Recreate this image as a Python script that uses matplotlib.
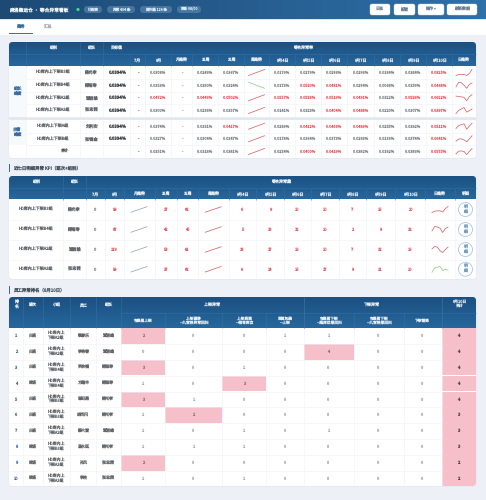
import numpy as np
import matplotlib
matplotlib.use("Agg")
import matplotlib.pyplot as plt
from matplotlib.patches import FancyBboxPatch, Rectangle, Circle
from matplotlib.colors import LinearSegmentedColormap

plt.rcParams['font.family'] = ['Noto Sans CJK SC', 'DejaVu Sans']
plt.rcParams['text.hinting'] = 'no_hinting'

W, H = 486, 500
TARGET = 0.0394

# ---------- data ----------
title = "麻涌集运仓 · 等合异常看板"
chips = ["已连接", "异常 404 条", "操作量 124 条", "更新 08/00"]
buttons = ["日志", "配置", "操作 ▾", "刷新数据"]
tabs = ["商务", "汇总"]
days = ["8月4日", "8月5日", "8月6日", "8月7日", "8月8日", "8月9日", "8月10日"]

groups = ["HD库内上下架B3组", "HD库内上下架B4组", "HD库内上下架A2组", "HD库内上下架A3组",
          "HD库内上下架A组", "HD库内上下架B组"]
leaders = ["陈光孝", "陈雨寿", "覃居雄", "张忠茜", "刘利安", "张锦金"]
month8 = [0.0308, 0.0353, 0.0472, 0.0300, 0.0374, 0.0327]
week31 = [0.0243, 0.0390, 0.0443, 0.0236, 0.0331, 0.0304]
week32 = [0.0367, 0.0324, 0.0502, 0.0357, 0.0417, 0.0347]
daily_rate = [
    [0.0179, 0.0279, 0.0296, 0.0296, 0.0184, 0.0384, 0.0825],
    [0.0173, 0.0520, 0.0481, 0.0294, 0.0068, 0.0359, 0.0468],
    [0.0557, 0.0528, 0.0519, 0.0491, 0.0322, 0.0526, 0.0622],
    [0.0141, 0.0323, 0.0404, 0.0488, 0.0220, 0.0307, 0.0397],
    [0.0289, 0.0412, 0.0456, 0.0489, 0.0255, 0.0392, 0.0511],
    [0.0178, 0.0364, 0.0373, 0.0293, 0.0133, 0.0374, 0.0641],
]
total_month8 = 0.0351
total_w31 = 0.0318
total_w32 = 0.0381
total_daily = [0.0234, 0.0400, 0.0419, 0.0382, 0.0192, 0.0383, 0.0575]

kpi_groups = groups[:4]
kpi_leaders = leaders[:4]
kpi_m7 = [0, 0, 0, 0]
kpi_m8 = [99, 87, 119, 99]
kpi_w31 = [37, 42, 58, 37]
kpi_w32 = [62, 45, 61, 62]
kpi_daily = [
    [6, 9, 10, 10, 7, 15, 20],
    [5, 13, 12, 10, 2, 9, 12],
    [13, 17, 16, 10, 7, 12, 16],
    [6, 14, 15, 17, 9, 11, 10],
]

rank_shift = ["白班", "白班", "白班", "晚班", "白班", "白班", "白班", "晚班", "晚班", "晚班"]
rank_group = ["A2", "A2", "B4", "B4", "B3", "B3", "A2", "B3", "A3", "A3"]
rank_name = ["黎春乐", "李艳春", "罗余福", "方瑞丰", "邬纪燕", "胡西闪", "蔡大富", "温水廷", "孙风", "李柱"]
rank_leader = ["覃居雄", "覃居雄", "陈雨寿", "陈雨寿", "陈光孝", "陈光孝", "覃居雄", "陈光孝", "张忠茜", "张忠茜"]
rank_heads = ["包裹届上架", "上架漂移\n—九宫格异常回扫", "上架货损\n—相邻库位", "货框包裹\n—上架",
              "包裹届下架\n—超库位报回扫", "包裹届下架\n—九宫格报回扫", "下架错拣"]
rank_vals = [
    [2, 0, 0, 1, 1, 0, 0],
    [0, 0, 0, 0, 4, 0, 0],
    [3, 0, 1, 0, 0, 0, 0],
    [1, 0, 3, 0, 0, 0, 0],
    [3, 1, 0, 0, 0, 0, 0],
    [1, 2, 0, 0, 0, 0, 0],
    [1, 0, 1, 0, 1, 0, 0],
    [1, 1, 1, 0, 0, 0, 0],
    [2, 0, 0, 0, 0, 0, 0],
    [1, 0, 1, 0, 0, 0, 0],
]
rank_total = [4, 4, 4, 4, 4, 3, 3, 3, 2, 2]

# ---------- layout (pixels) ----------
X1 = [26, 80, 103, 130, 145, 171, 192, 218, 244, 269, 295, 321, 347, 374, 400, 426, 452, 476]
Y1 = [66, 79, 91.5, 104, 117, 120, 132.5, 145, 158]
X2 = [9, 63, 86, 105, 123.5, 154.5, 176.5, 198, 228.5, 256, 284, 311, 339, 366, 395, 425, 455, 476]
Y2 = [199.5, 219.5, 239.5, 259.5, 279]
X3 = [9, 22.5, 42.5, 70, 96, 120.5, 165, 222, 266, 303.5, 353.5, 403.5, 441.5, 476]
Y3 = [328, 344, 360, 375.5, 391.5, 407, 423, 439, 455, 471, 486]

C_BG = "#edf0f6"
C_TXT = "#63686f"
C_NUM = "#777c84"
C_RED = "#e2555e"
C_GRID = "#eff2f7"
C_PINK = "#f5c0ca"
C_BLUE = "#3a6c9e"
C_GRN = "#8ccf8f"
C_SLINE = "#e0626a"
C_GREY = "#9aa6bd"
C_HEAD = "#e4edf5"
FS = 2.9

fig = plt.figure(figsize=(W / 100, H / 100), dpi=100, facecolor=C_BG)
ax = fig.add_axes([0, 0, 1, 1])
ax.set_xlim(0, W)
ax.set_ylim(H, 0)
ax.axis("off")

head_cm = LinearSegmentedColormap.from_list("h", ["#1b5082", "#27679c"])
bar_cm = LinearSegmentedColormap.from_list("b", ["#1d4a75", "#2f70a8"])


def T(x, y, s, size=FS, color=C_TXT, weight="normal", ha="center", z=6):
    ax.text(x, y, s, fontsize=size, color=color, fontweight=weight, ha=ha, va="center",
            linespacing=1.15, zorder=z)


def gradient(x0, x1, y0, y1, cmap, horizontal=False, clip=None, z=2):
    g = np.linspace(0, 1, 64)
    g = g.reshape(1, -1) if horizontal else g.reshape(-1, 1)
    im = ax.imshow(g, cmap=cmap, extent=[x0, x1, y1, y0], aspect="auto", zorder=z, interpolation="bilinear")
    if clip is not None:
        im.set_clip_path(clip)
    ax.set_xlim(0, W)
    ax.set_ylim(H, 0)


def card(x0, x1, y0, y1):
    ax.add_patch(FancyBboxPatch((x0 - 0.3, y0 + 0.7), x1 - x0 + 0.6, y1 - y0,
                                boxstyle="round,pad=0,rounding_size=3.5", fc="#e2e7ef", ec="none", zorder=0.5))
    p = FancyBboxPatch((x0, y0), x1 - x0, y1 - y0, boxstyle="round,pad=0,rounding_size=3.5",
                       fc="white", ec="none", zorder=1)
    ax.add_patch(p)
    return p


def hline(x0, x1, y, color=C_GRID, lw=0.4, z=3):
    ax.plot([x0, x1], [y, y], color=color, lw=lw, zorder=z, solid_capstyle="butt")


def vline(x, y0, y1, color=C_GRID, lw=0.4, z=3):
    ax.plot([x, x], [y0, y1], color=color, lw=lw, zorder=z, solid_capstyle="butt")


def spark(cx, cy, values, color, w=16, h=6, lw=0.55):
    a = fig.add_axes([(cx - w / 2) / W, 1 - (cy + h / 2) / H, w / W, h / H])
    a.axis("off")
    a.patch.set_alpha(0)
    a.plot(range(len(values)), values, color=color, lw=lw, clip_on=False)
    a.margins(0)


def mid(edges, i):
    return (edges[i] + edges[i + 1]) / 2


def pct(v):
    return f"{v:.4f}%"


def pc(v):
    return C_RED if v > TARGET else C_NUM


# ---------- top bar ----------
ax.add_patch(Rectangle((0, 19), W, 1.5, fc="#dfe4ec", ec="none", zorder=0.6))
ax.add_patch(Rectangle((0, 19.5), W, 15, fc="white", ec="none", zorder=0.7))
gradient(0, W, 0, 19, bar_cm, horizontal=True, z=1)
T(9, 9.5, title, size=3.45, color="#f2f6fa", weight="medium", ha="left")
ax.add_patch(Circle((78, 9.5), 1.6, fc="#3ddc84", ec="none", zorder=5))
for (x0, x1), s in zip([(84, 102), (107, 135), (140, 172), (177, 201)], chips):
    ax.add_patch(FancyBboxPatch((x0, 6), x1 - x0, 7, boxstyle="round,pad=0,rounding_size=3.5",
                                fc="#5d8cb4", ec="none", zorder=4, alpha=0.6))
    T((x0 + x1) / 2, 9.5, s, size=2.6, color="#dbe7f1")
for (x0, x1), s in zip([(370, 390), (394, 415), (418, 444), (447, 477)], buttons):
    ax.add_patch(FancyBboxPatch((x0, 4), x1 - x0, 11, boxstyle="round,pad=0,rounding_size=2",
                                fc="white", ec="#cfdbe7", lw=0.3, zorder=4))
    T((x0 + x1) / 2, 9.5, s, size=2.9, color="#6d8299")
T(21, 26.5, tabs[0], size=3.1, color=C_BLUE)
T(47, 26.5, tabs[1], size=3.1, color="#a6adb6")
ax.add_patch(Rectangle((9, 33), 24, 1.2, fc="#2f72ab", ec="none", zorder=5))

# ---------- table 1 ----------
c1 = card(9, 476, 42, 158)
gradient(9, 477, 42, 66, head_cm, clip=c1)
hline(9, 476, 54, color="#2f6fa5", lw=0.4, z=4)
for x in X1[:3]:
    vline(x, 42, 66, color="#2f6fa5", z=4)
for x in X1[3:-1]:
    vline(x, 54, 66, color="#2f6fa5", z=4)
T(53, 48, "组别", color=C_HEAD, weight="medium")
T(91.5, 48, "组长", color=C_HEAD, weight="medium")
T(116.5, 48, "目标值", color=C_HEAD, weight="medium")
T(303, 48, "等合异常率", color=C_HEAD, weight="medium")
for i, s in enumerate(["7月", "8月", "月趋势", "31周", "32周", "周趋势"] + days + ["日趋势"]):
    T(mid(X1, 3 + i), 60, s, color=C_HEAD, weight="medium")

ax.add_patch(Rectangle((9, 117), 467, 3, fc="#e3e8ef", ec="none", zorder=3))
ax.add_patch(Rectangle((9, 66), 17, 51, fc="#f7fafc", ec="none", zorder=1.5))
ax.add_patch(Rectangle((9, 120), 17, 25, fc="#f7fafc", ec="none", zorder=1.5))
T(17.5, 91.5, "组长\n维度", color=C_BLUE, weight="medium", size=3)
T(17.5, 132.5, "主管\n维度", color=C_BLUE, weight="medium", size=3)

row_y = [(Y1[i], Y1[i + 1]) for i in (0, 1, 2, 3, 5, 6, 7)]
for n, (y0, y1) in enumerate(row_y):
    cy = (y0 + y1) / 2
    if n < 6:
        hline(26, 476, y1)
    for x in X1[:-1]:
        vline(x, y0, y1)
    if n < 6:
        T(53, cy, groups[n])
        T(91.5, cy, leaders[n], size=3.05)
        T(116.5, cy, "0.0394%", color="#3c4046", weight="bold", size=3.05)
        m8, w1, w2, d = month8[n], week31[n], week32[n], daily_rate[n]
    else:
        T(64.5, cy, "合计", color="#4a4f56", weight="medium")
        m8, w1, w2, d = total_month8, total_w31, total_w32, total_daily
    T(mid(X1, 3), cy, "-", color=C_RED)
    T(mid(X1, 4), cy, pct(m8), color=pc(m8), size=2.75)
    T(mid(X1, 5), cy, "-", color="#9aa3ad")
    T(mid(X1, 6), cy, pct(w1), color=pc(w1), size=2.75)
    T(mid(X1, 7), cy, pct(w2), color=pc(w2), size=2.75)
    spark(mid(X1, 8), cy, [w1, w2], C_SLINE if w2 >= w1 else C_GRN)
    for k, v in enumerate(d):
        T(mid(X1, 9 + k), cy, pct(v), color=pc(v), size=2.75)
    spark(mid(X1, 16), cy, d, C_SLINE)

# ---------- table 2 ----------
ax.add_patch(Rectangle((9, 163.5), 1, 8.5, fc=C_BLUE, ec="none", zorder=3))
T(13, 168, "近七日明细异常 KPI（班次+组别）", size=3.2, color="#4b535e", ha="left")
c2 = card(9, 476, 176, 279)
gradient(9, 477, 176, 199.5, head_cm, clip=c2)
hline(9, 476, 188, color="#2f6fa5", z=4)
for x in X2[1:3]:
    vline(x, 176, 199.5, color="#2f6fa5", z=4)
for x in X2[3:-1]:
    vline(x, 188, 199.5, color="#2f6fa5", z=4)
T(36, 182, "组别", color=C_HEAD, weight="medium")
T(74.5, 182, "组长", color=C_HEAD, weight="medium")
T(281, 182, "等合异常量", color=C_HEAD, weight="medium")
for i, s in enumerate(["7月", "8月", "月趋势", "31周", "32周", "周趋势"] + days + ["日趋势", "明细"]):
    T(mid(X2, 2 + i), 194, s, color=C_HEAD, weight="medium")
for n in range(4):
    y0, y1 = Y2[n], Y2[n + 1]
    cy = (y0 + y1) / 2
    if n < 3:
        hline(9, 476, y1)
    for x in X2[1:-1]:
        vline(x, y0, y1)
    T(36, cy, kpi_groups[n])
    T(74.5, cy, kpi_leaders[n], size=3.05)
    T(mid(X2, 2), cy, str(kpi_m7[n]), color=C_NUM)
    T(mid(X2, 3), cy, str(kpi_m8[n]), color=C_RED)
    spark(mid(X2, 4), cy, [kpi_m7[n], kpi_m8[n]], C_GREY, h=5.5)
    T(mid(X2, 5), cy, str(kpi_w31[n]), color=C_RED)
    T(mid(X2, 6), cy, str(kpi_w32[n]), color=C_RED)
    spark(mid(X2, 7), cy, [kpi_w31[n], kpi_w32[n]], C_SLINE, h=5.5)
    for k, v in enumerate(kpi_daily[n]):
        T(mid(X2, 8 + k), cy, str(v), color=C_RED)
    spark(mid(X2, 15), cy, kpi_daily[n], C_GRN if n == 3 else C_SLINE)
    cx = mid(X2, 16)
    ax.add_patch(Circle((cx, cy), 7, fc="white", ec="#a9c7e3", lw=0.6, zorder=5))
    T(cx, cy, "明\n细", color="#6f9cc3", size=2.9)

# ---------- table 3 ----------
ax.add_patch(Rectangle((9, 285.5), 1, 8.5, fc=C_BLUE, ec="none", zorder=3))
T(13, 290, "员工异常排名（8月10日）", size=3.2, color="#4b535e", ha="left")
c3 = card(9, 476, 297, 486)
gradient(9, 477, 297, 328, head_cm, clip=c3)
hline(120.5, 476, 313, color="#2f6fa5", z=4)
for x in X3[1:6]:
    vline(x, 297, 328, color="#2f6fa5", z=4)
for x in (X3[9], X3[12]):
    vline(x, 297, 328, color="#3a7bb0", z=4)
for x in X3[6:12]:
    vline(x, 313, 328, color="#2f6fa5", z=4)
for i, s in enumerate(["排\n名", "班次", "小组", "员工", "组长"]):
    T(mid(X3, i), 305, s, color=C_HEAD, weight="medium")
T((X3[5] + X3[9]) / 2, 305, "上架异常", color=C_HEAD, weight="medium")
T((X3[9] + X3[12]) / 2, 305, "下架异常", color=C_HEAD, weight="medium")
T(mid(X3, 12), 304, "8月10日\n合计", color=C_HEAD, weight="medium", size=2.8)
for i, s in enumerate(rank_heads):
    T(mid(X3, 5 + i), 320.5, s, color=C_HEAD, size=2.7)

for n in range(10):
    y0, y1 = Y3[n], Y3[n + 1]
    cy = (y0 + y1) / 2
    for i, v in enumerate(rank_vals[n]):
        if v >= 2:
            ax.add_patch(Rectangle((X3[5 + i], y0 + 0.3), X3[6 + i] - X3[5 + i], y1 - y0 - 0.6,
                                   fc=C_PINK, ec="none", zorder=2))
    pk = Rectangle((X3[12], y0 + 0.2), X3[13] - X3[12], y1 - y0 - 0.4, fc=C_PINK, ec="none", zorder=2)
    ax.add_patch(pk)
    pk.set_clip_path(c3)
    if n < 9:
        hline(9, 441.5, y1)
    for x in X3[1:-1]:
        vline(x, y0, y1)
    T(mid(X3, 0), cy, str(n + 1), color=C_BLUE, weight="medium")
    T(mid(X3, 1), cy, rank_shift[n])
    T(mid(X3, 2), cy, f"HD库内上\n下架{rank_group[n]}组", size=2.85)
    T(mid(X3, 3), cy, rank_name[n])
    T(mid(X3, 4), cy, rank_leader[n])
    for i, v in enumerate(rank_vals[n]):
        T(mid(X3, 5 + i), cy, str(v), color="#8a7278" if v >= 2 else "#9a9fa6", size=2.85)
    T(mid(X3, 12), cy, str(rank_total[n]), color="#5a4a50", weight="bold")

fig.savefig("out.png", dpi=100, facecolor=C_BG)
